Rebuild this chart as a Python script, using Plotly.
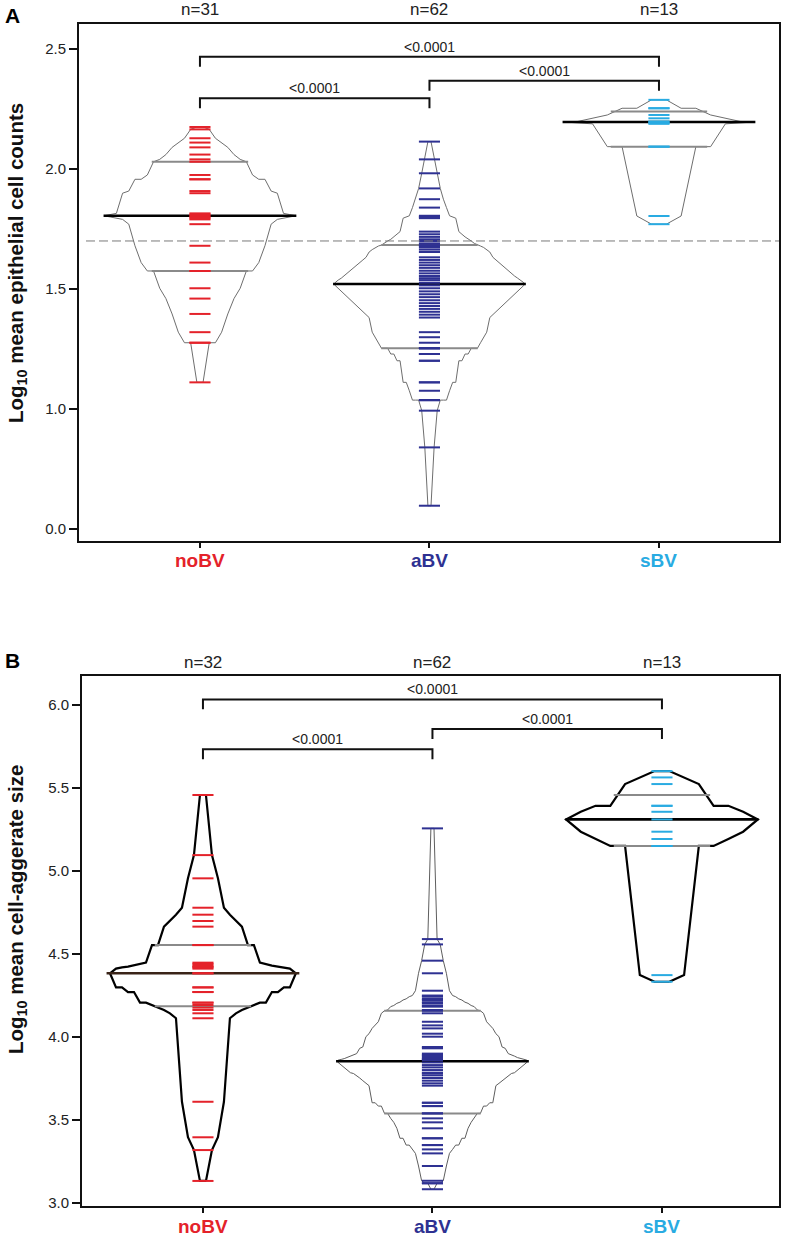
import numpy as np
import plotly.graph_objects as go

# ---------------- data ----------------
categories = ["noBV", "aBV", "sBV"]
cat_colors = ["#e4222a", "#2e3192", "#29abe2"]

# Panel A: Log10 mean epithelial cell counts (values in plotted axis units)
a_noBV = [1.111, 1.276, 1.276, 1.320, 1.396, 1.460, 1.503, 1.575, 1.575, 1.610, 1.680,
          1.770, 1.790, 1.795, 1.800, 1.805, 1.810, 1.815, 1.899, 1.908, 1.957, 1.957,
          1.975, 2.030, 2.040, 2.060, 2.090, 2.110, 2.128, 2.165, 2.175]
a_aBV = [0.597, 0.840, 0.993, 1.037, 1.037, 1.037, 1.076, 1.111, 1.111, 1.201, 1.201,
         1.229, 1.229, 1.253, 1.253, 1.253, 1.276, 1.299, 1.320,
         1.381, 1.393, 1.405, 1.417, 1.429, 1.441, 1.453, 1.466, 1.478, 1.490, 1.503,
         1.515, 1.526,
         1.537, 1.545, 1.554, 1.565, 1.576, 1.588, 1.599, 1.610, 1.621, 1.632, 1.654,
         1.664, 1.673, 1.679, 1.683,
         1.690, 1.700, 1.707, 1.717, 1.728, 1.739, 1.795, 1.800, 1.805, 1.839, 1.874,
         1.919, 1.982, 2.040, 2.114]
a_sBV = [1.770, 1.804, 2.093, 2.093, 2.188, 2.192, 2.196, 2.198, 2.211, 2.225, 2.253,
         2.253, 2.288]
a_threshold = 1.70
a_tickvals = [0.5, 1.0, 1.5, 2.0, 2.5]
a_ticktext = ["0.0", "1.0", "1.5", "2.0", "2.5"]
a_brackets = [(0, 2, 2.468, "<0.0001"), (0, 1, 2.295, "<0.0001"), (1, 2, 2.368, "<0.0001")]

# Panel B: Log10 mean cell-aggerate size
b_noBV = [3.133, 3.319, 3.396, 3.610, 4.113, 4.143, 4.163, 4.177, 4.193, 4.207, 4.207,
          4.271, 4.271, 4.299, 4.299, 4.384, 4.384, 4.412, 4.420, 4.424, 4.430, 4.440,
          4.448, 4.554, 4.554, 4.665, 4.699, 4.737, 4.779, 4.956, 5.096, 5.458]
b_aBV = [3.083, 3.119, 3.119, 3.134, 3.223, 3.299, 3.323, 3.349, 3.349, 3.390, 3.390,
         3.450, 3.486, 3.510, 3.540, 3.540,
         3.584, 3.584, 3.604, 3.604, 3.707, 3.721, 3.737, 3.753, 3.769, 3.780, 3.785,
         3.801, 3.817, 3.831, 3.847,
         3.861, 3.865, 3.870, 3.876, 3.885, 3.892, 3.900, 3.932, 3.940, 4.002, 4.020,
         4.052, 4.070, 4.092, 4.143, 4.158,
         4.163, 4.183, 4.190, 4.203, 4.210, 4.223, 4.230, 4.243, 4.250, 4.279, 4.384,
         4.460, 4.558, 4.590, 5.257]
b_sBV = [4.333, 4.373, 5.151, 5.151, 5.193, 5.237, 5.311, 5.357, 5.393, 5.393, 5.524,
         5.564, 5.602]
b_tickvals = [3.0, 3.5, 4.0, 4.5, 5.0, 5.5, 6.0]
b_ticktext = ["3.0", "3.5", "4.0", "4.5", "5.0", "5.5", "6.0"]
b_brackets = [(0, 2, 6.034, "<0.0001"), (0, 1, 5.733, "<0.0001"), (1, 2, 5.855, "<0.0001")]

# ---------------- styling ----------------
W, H = 787, 1239
FONT = "Liberation Sans, Arial, Helvetica, sans-serif"
BEAN_SCALE = 0.836      # x-units of half width per unit of folded cumulative fraction
MED_HALF = 0.42
QRT_HALF = 0.21
TICK_HALF = 0.046

fig = go.Figure()


def hinges(vals):
    v = np.sort(np.asarray(vals, dtype=float))
    n = len(v)
    med = np.median(v)
    if n % 2:
        lo, hi = v[: n // 2], v[n // 2 + 1:]
    else:
        lo, hi = v[: n // 2], v[n // 2:]
    return np.median(lo), med, np.median(hi)


def bean(vals, c):
    v = np.sort(np.asarray(vals, dtype=float))
    n = len(v)
    i = np.arange(1, n + 1)
    w = BEAN_SCALE * (np.minimum(i, n + 1 - i) - 0.5) / n
    xs = np.concatenate([c + w, (c - w)[::-1], [c + w[0]]])
    ys = np.concatenate([v, v[::-1], [v[0]]])
    return xs, ys


def add_panel(groups, xa, ya, outline_styles, median_colors, brackets, drop):
    for k, vals in enumerate(groups):
        col, wid = outline_styles[k]
        xs, ys = bean(vals, k)
        fig.add_trace(go.Scatter(x=xs, y=ys, mode="lines", xaxis=xa, yaxis=ya,
                                 line=dict(color=col, width=wid), hoverinfo="skip"))
        q1, med, q3 = hinges(vals)
        for q in (q1, q3):
            fig.add_trace(go.Scatter(x=[k - QRT_HALF, k + QRT_HALF], y=[q, q], mode="lines",
                                     xaxis=xa, yaxis=ya, hoverinfo="skip",
                                     line=dict(color="#8a8a8a", width=2)))
        fig.add_trace(go.Scatter(x=[k - MED_HALF, k + MED_HALF], y=[med, med], mode="lines",
                                 xaxis=xa, yaxis=ya, hoverinfo="skip",
                                 line=dict(color=median_colors[k], width=2.6)))
        tx, ty = [], []
        for v in vals:
            tx += [k - TICK_HALF, k + TICK_HALF, None]
            ty += [v, v, None]
        fig.add_trace(go.Scatter(x=tx, y=ty, mode="lines", xaxis=xa, yaxis=ya,
                                 hoverinfo="skip", line=dict(color=cat_colors[k], width=2)))
    for a, b, lev, txt in brackets:
        fig.add_trace(go.Scatter(x=[a, a, b, b], y=[lev - drop, lev, lev, lev - drop],
                                 mode="lines", xaxis=xa, yaxis=ya, hoverinfo="skip",
                                 line=dict(color="#111111", width=2)))
        fig.add_annotation(x=(a + b) / 2, y=lev, xref=xa, yref=ya, text=txt,
                           showarrow=False, yanchor="bottom", yshift=0,
                           font=dict(family=FONT, size=14, color="#222222"))


add_panel([a_noBV, a_aBV, a_sBV], "x", "y",
          [("#6e6e6e", 1), ("#6e6e6e", 1), ("#6e6e6e", 1)],
          ["#000000", "#000000", "#000000"], a_brackets, 0.042)
add_panel([b_noBV, b_aBV, b_sBV], "x2", "y2",
          [("#000000", 2.2), ("#5e5e5e", 1), ("#000000", 2.2)],
          ["#3a2418", "#000000", "#000000"], b_brackets, 0.06)

fig.add_shape(type="line", xref="x domain", yref="y", x0=0.01, x1=1.0,
              y0=a_threshold, y1=a_threshold,
              line=dict(color="#7a7a7a", width=1, dash="9px,4px"))

axis_common = dict(showline=True, mirror=True, linecolor="#111111", linewidth=2,
                   showgrid=False, zeroline=False, ticks="outside", tickwidth=2,
                   tickcolor="#111111", automargin=False)

fig.update_layout(
    template="none",
    width=W, height=H, margin=dict(l=0, r=0, t=0, b=0, pad=0, autoexpand=False),
    paper_bgcolor="white", plot_bgcolor="white", showlegend=False, hovermode=False,
    xaxis=dict(domain=[79 / W, 779 / W], anchor="y", range=[-0.527, 2.523],
               tickvals=[0, 1, 2], showticklabels=False, ticklen=5, **axis_common),
    yaxis=dict(domain=[1 - 541 / H, 1 - 24 / H], anchor="x", range=[0.45, 2.604],
               tickvals=a_tickvals, ticktext=a_ticktext, ticklen=8,
               tickfont=dict(family=FONT, size=15, color="#222222"), **axis_common),
    xaxis2=dict(domain=[82 / W, 779 / W], anchor="y2", range=[-0.527, 2.51],
                tickvals=[0, 1, 2], showticklabels=False, ticklen=5, **axis_common),
    yaxis2=dict(domain=[1 - 1206 / H, 1 - 676 / H], anchor="x2", range=[2.982, 6.175],
                tickvals=b_tickvals, ticktext=b_ticktext, ticklen=8,
                tickfont=dict(family=FONT, size=15, color="#222222"), **axis_common),
)

# panel letters
for letter, ypx in (("A", 15), ("B", 660)):
    fig.add_annotation(x=12 / W, y=1 - ypx / H, xref="paper", yref="paper", text=f"<b>{letter}</b>",
                       showarrow=False, xanchor="center", yanchor="middle",
                       font=dict(family=FONT, size=21, color="#000000"))

# n labels and category labels
for groups, xa, n_ypx, cat_ypx in (([a_noBV, a_aBV, a_sBV], "x", 10, 560),
                                   ([b_noBV, b_aBV, b_sBV], "x2", 662, 1226)):
    for k, vals in enumerate(groups):
        fig.add_annotation(x=k, y=1 - n_ypx / H, xref=xa, yref="paper", text=f"n={len(vals)}",
                           showarrow=False, yanchor="middle",
                           font=dict(family=FONT, size=17, color="#222222"))
        fig.add_annotation(x=k, y=1 - cat_ypx / H, xref=xa, yref="paper",
                           text=f"<b>{categories[k]}</b>", showarrow=False, yanchor="middle",
                           font=dict(family=FONT, size=19, color=cat_colors[k]))

# y-axis titles
for txt, ypx in (("Log<sub>10</sub> mean epithelial cell counts", 263),
                 ("Log<sub>10</sub> mean cell-aggerate size", 910)):
    fig.add_annotation(x=17 / W, y=1 - ypx / H, xref="paper", yref="paper", text=f"<b>{txt}</b>",
                       textangle=-90, showarrow=False, xanchor="center", yanchor="middle",
                       font=dict(family=FONT, size=20.5, color="#111111"))

fig.write_html("out.html", config={"displayModeBar": False, "staticPlot": True},
               post_script="document.body.style.margin='0';document.body.style.padding='0';")
